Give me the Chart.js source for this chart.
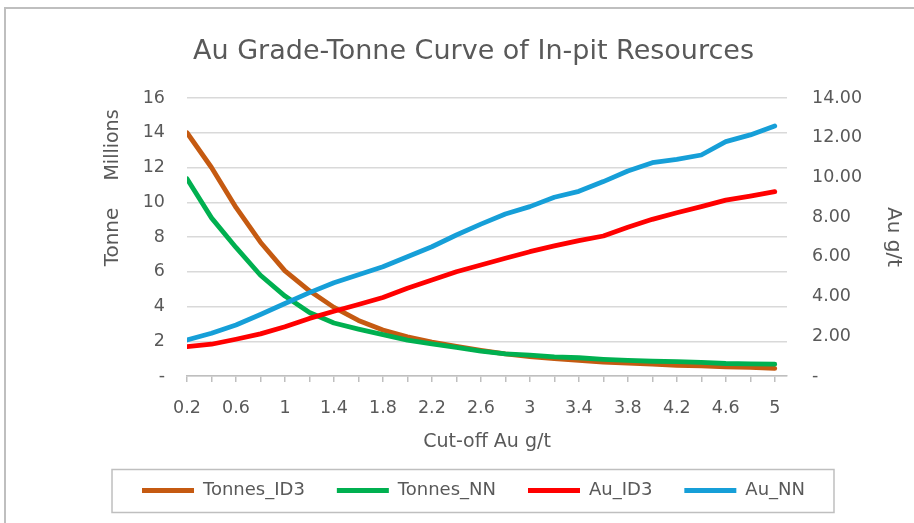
<!DOCTYPE html>
<html>
<head>
<meta charset="utf-8">
<script src="https://cdn.jsdelivr.net/npm/chart.js@4/dist/chart.umd.min.js"></script>
<style>
    html, body { margin: 0; padding: 0; background: #fff; overflow: hidden; }
    #wrap { position: relative; width: 914px; height: 523px; }
    #frame {
        position: absolute; left: 4px; top: 7px; width: 1000px; height: 600px;
        border: 2px solid #bfbfbf; box-sizing: border-box; pointer-events: none;
    }
</style>
</head>
<body>
<div id="wrap">
    <canvas id="chart" width="914" height="523"></canvas>
    <div id="frame"></div>
</div>
<script>
// cut-off grades (g/t)
const cutoffs = [0.2, 0.4, 0.6, 0.8, 1.0, 1.2, 1.4, 1.6, 1.8, 2.0, 2.2, 2.4, 2.6,
    2.8, 3.0, 3.2, 3.4, 3.6, 3.8, 4.0, 4.2, 4.4, 4.6, 4.8, 5.0];

// tonnes, millions (left axis)
const tonnesID3 = [14.0, 12.0, 9.7, 7.7, 6.05, 4.9, 3.95, 3.2, 2.65, 2.25, 1.95, 1.7, 1.47,
    1.27, 1.12, 1.0, 0.9, 0.8, 0.74, 0.68, 0.62, 0.58, 0.52, 0.5, 0.44];
const tonnesNN = [11.35, 9.1, 7.4, 5.8, 4.6, 3.65, 3.05, 2.7, 2.38, 2.07, 1.85, 1.65, 1.43,
    1.27, 1.2, 1.1, 1.05, 0.96, 0.9, 0.85, 0.83, 0.78, 0.72, 0.7, 0.68];

// grade, g/t (right axis)
const auID3 = [1.48, 1.6, 1.85, 2.12, 2.48, 2.9, 3.26, 3.6, 3.95, 4.42, 4.83, 5.25, 5.59,
    5.93, 6.26, 6.55, 6.82, 7.05, 7.49, 7.89, 8.22, 8.53, 8.86, 9.06, 9.28];
const auNN = [1.81, 2.15, 2.57, 3.1, 3.65, 4.2, 4.7, 5.1, 5.5, 6.01, 6.51, 7.1, 7.65,
    8.16, 8.53, 9.0, 9.3, 9.79, 10.32, 10.74, 10.91, 11.13, 11.8, 12.14, 12.59];

const leftTicks = [0, 2, 4, 6, 8, 10, 12, 14, 16];
const rightTicks = [0, 2, 4, 6, 8, 10, 12, 14];

const FONT = '"DejaVu Sans"';
const GREY = '#595959';

const pts = arr => arr.map((v, i) => ({ x: cutoffs[i], y: v }));

const series = (label, data, color, axis, order) => ({
    label,
    data: pts(data),
    yAxisID: axis,
    order,
    borderColor: color,
    backgroundColor: color,
    borderWidth: 4.8,
    borderCapStyle: 'round',
    borderJoinStyle: 'round',
    pointRadius: 0,
    tension: 0
});

// "Millions" display-unit label and legend frame
const extras = {
    id: 'extras',
    afterDraw(chart) {
        const ctx = chart.ctx;
        ctx.save();
        ctx.fillStyle = GREY;
        ctx.font = `19px ${FONT}`;
        ctx.textAlign = 'center';
        ctx.textBaseline = 'middle';
        ctx.translate(113, 145);
        ctx.rotate(-Math.PI / 2);
        ctx.fillText('Millions', 0, 0);
        ctx.restore();

        const boxes = chart.legend.legendHitBoxes;
        if (boxes && boxes.length) {
            const l = Math.min(...boxes.map(b => b.left)) - 30;
            const r = Math.max(...boxes.map(b => b.left + b.width)) + 29;
            const t = boxes[0].top - 12;
            const h = boxes[0].height + 25;
            ctx.save();
            ctx.strokeStyle = '#bfbfbf';
            ctx.lineWidth = 1.5;
            ctx.strokeRect(l, t, r - l, h);
            ctx.restore();
        }
    }
};

new Chart(document.getElementById('chart'), {
    type: 'line',
    data: {
        datasets: [
            series('Tonnes_ID3', tonnesID3, '#C55A11', 'y', 4),
            series('Tonnes_NN', tonnesNN, '#00B050', 'y', 3),
            series('Au_ID3', auID3, '#FF0000', 'y1', 2),
            series('Au_NN', auNN, '#169FD8', 'y1', 1)
        ]
    },
    options: {
        responsive: false,
        animation: false,
        layout: { padding: { left: 40, right: 7, top: 20, bottom: 13.5 } },
        plugins: {
            title: {
                display: true,
                text: 'Au Grade-Tonne Curve of In-pit Resources',
                color: GREY,
                font: { family: FONT, size: 27, weight: 'normal', lineHeight: 1.2 },
                padding: { top: 16, bottom: 29.6 }
            },
            legend: {
                position: 'bottom',
                labels: {
                    color: GREY,
                    font: { family: FONT, size: 18 },
                    usePointStyle: true,
                    pointStyle: 'line',
                    pointStyleWidth: 52,
                    padding: 32,
                    sort: (a, b) => a.datasetIndex - b.datasetIndex
                }
            },
            tooltip: { enabled: false }
        },
        scales: {
            x: {
                type: 'linear',
                min: 0.2,
                max: 5.1,
                afterBuildTicks: s => { s.ticks = cutoffs.map(v => ({ value: v })); },
                afterFit: s => { s.height = 73.5; },
                border: { color: '#bfbfbf', width: 1.5 },
                grid: { drawOnChartArea: false, color: '#bfbfbf', tickLength: 6, lineWidth: 1.5 },
                ticks: {
                    color: GREY,
                    font: { family: FONT, size: 17.5 },
                    padding: 16,
                    maxRotation: 0,
                    autoSkip: false,
                    callback: (v, i) => (i % 2 === 0 ? String(+cutoffs[i].toFixed(1)) : '')
                },
                title: {
                    display: true,
                    text: 'Cut-off Au g/t',
                    color: GREY,
                    font: { family: FONT, size: 19, lineHeight: 1 },
                    padding: { top: 0, bottom: -2 }
                }
            },
            y: {
                position: 'left',
                min: 0,
                max: 16,
                afterBuildTicks: s => { s.ticks = leftTicks.map(v => ({ value: v })); },
                afterFit: s => { s.width = 147; },
                border: { display: false },
                grid: { color: '#d9d9d9', lineWidth: 1.5, drawTicks: false },
                ticks: {
                    color: GREY,
                    font: { family: FONT, size: 17.5 },
                    padding: 22,
                    callback: v => (v === 0 ? '-' : String(v))
                },
                title: {
                    display: true,
                    text: 'Tonne',
                    color: GREY,
                    font: { family: FONT, size: 20, lineHeight: 1.2 },
                    padding: { top: 61, bottom: 0 }
                }
            },
            y1: {
                position: 'right',
                min: 0,
                max: 14,
                afterBuildTicks: s => { s.ticks = rightTicks.map(v => ({ value: v })); },
                afterFit: s => { s.width = 120; },
                border: { display: false },
                grid: { drawOnChartArea: false, drawTicks: false },
                ticks: {
                    color: GREY,
                    font: { family: FONT, size: 17.5 },
                    padding: 25,
                    callback: v => (v === 0 ? '-' : v.toFixed(2))
                },
                title: {
                    display: true,
                    text: 'Au g/t',
                    color: GREY,
                    font: { family: FONT, size: 20, lineHeight: 1.2 },
                    padding: { top: 2, bottom: 0 }
                }
            }
        }
    },
    plugins: [extras]
});
</script>
</body>
</html>
